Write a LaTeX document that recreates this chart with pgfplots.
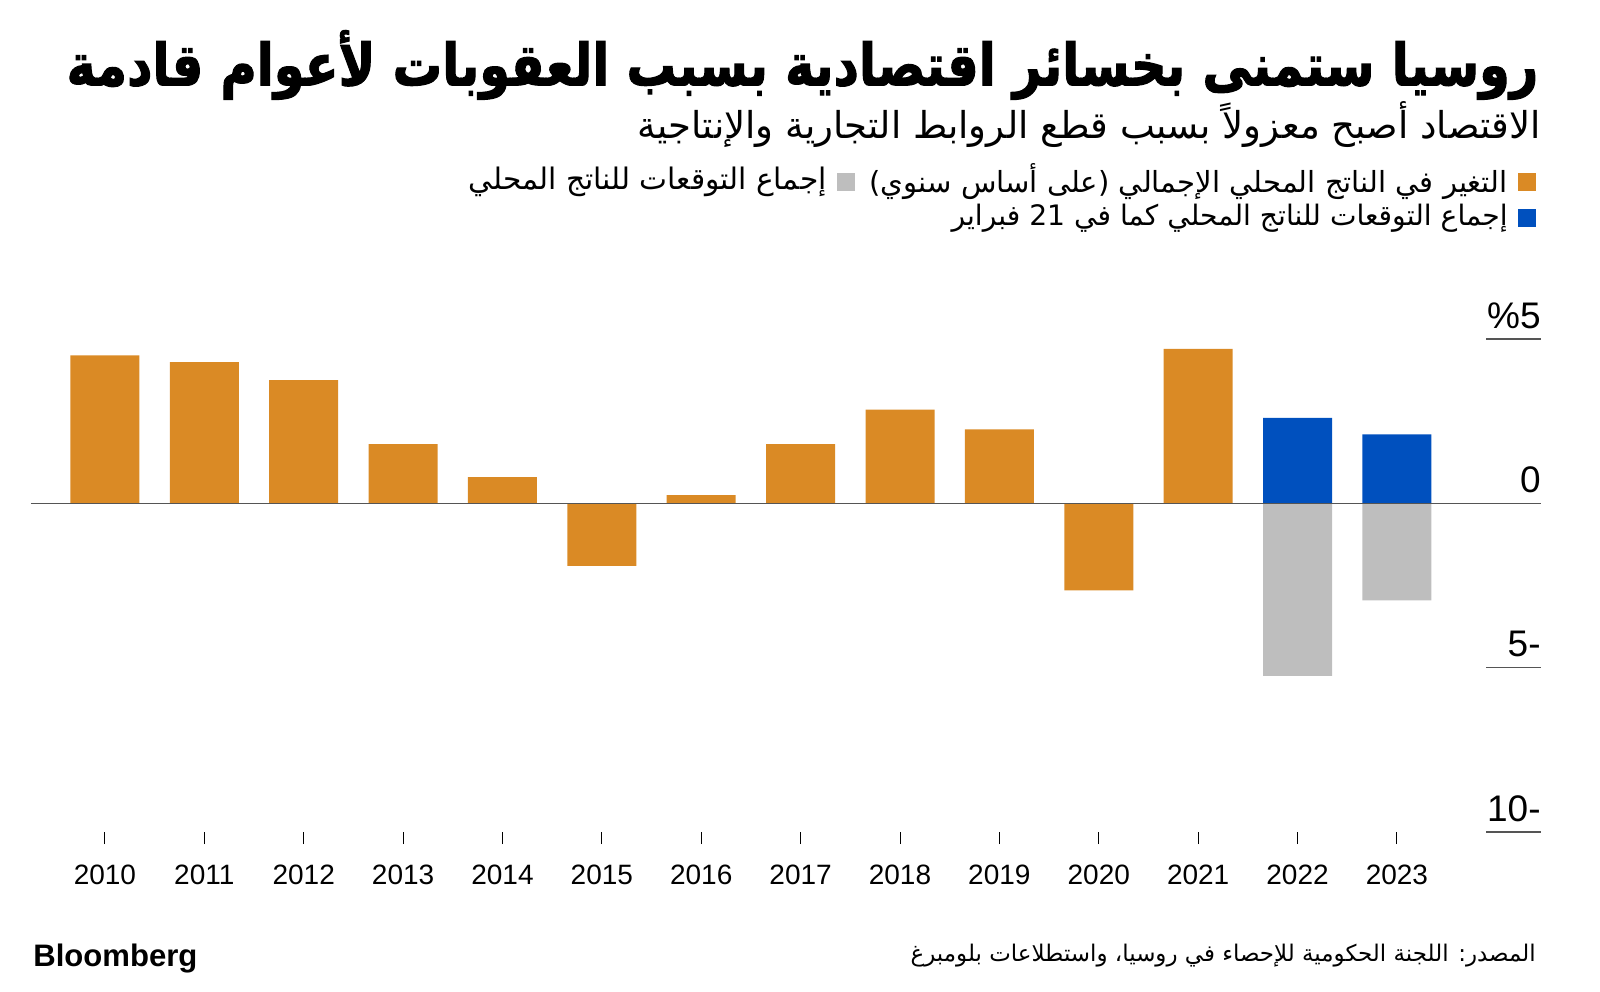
\documentclass[border=0pt]{standalone}
\usepackage{pgfplots}
\pgfplotsset{compat=1.18}
\usepackage{fontspec}
\usepackage{graphicx}
\setmainfont{Liberation Sans}
\newfontfamily\arabicfont[Script=Arabic]{DejaVu Sans}
\newfontfamily\arabicbold[Script=Arabic,FakeBold=2]{DejaVu Sans Bold}
\TeXXeTstate=1
\definecolor{barorange}{HTML}{DA8A25}
\definecolor{barblue}{HTML}{0050BE}
\definecolor{bargrey}{HTML}{BEBEBE}
\definecolor{linegrey}{HTML}{555555}

\pgfplotstableread{
x y
0 4.5
1 4.3
2 3.75
3 1.8
4 0.8
5 -1.9
6 0.25
7 1.8
8 2.85
9 2.25
10 -2.65
11 4.7
}\actual
\pgfplotstableread{
x y
12 2.6
13 2.1
}\prewar
\pgfplotstableread{
x y
12 -5.25
13 -2.95
}\postwar

\begin{document}
\begin{tikzpicture}
\useasboundingbox (0pt,0pt) rectangle (800pt,495.5pt);
% title
\node[anchor=east,inner sep=0pt] at (769.5pt,463pt) {\scalebox{1}[1.18]{\resizebox{736pt}{!}{\arabicbold\fontsize{30}{36}\selectfont\beginR روسيا ستمنى بخسائر اقتصادية بسبب العقوبات لأعوام قادمة\endR}}};
\node[anchor=east,inner sep=0pt] at (770.5pt,433pt) {\resizebox{451.5pt}{!}{\arabicfont\fontsize{20}{24}\selectfont\beginR الاقتصاد أصبح معزولاً بسبب قطع الروابط التجارية والإنتاجية\endR}};
% legend
\fill[barorange] (759pt,400pt) rectangle (768pt,409pt);
\node[anchor=east,inner sep=0pt] at (754pt,404.5pt) {\resizebox{319pt}{!}{\arabicfont\fontsize{14}{16}\selectfont\beginR التغير في الناتج المحلي الإجمالي (على أساس سنوي)\endR}};
\fill[bargrey] (418.25pt,400pt) rectangle (427.25pt,409pt);
\node[anchor=east,inner sep=0pt] at (413.5pt,404.5pt) {\resizebox{179pt}{!}{\arabicfont\fontsize{14}{16}\selectfont\beginR إجماع التوقعات للناتج المحلي\endR}};
\fill[barblue] (759pt,382pt) rectangle (768pt,391pt);
\node[anchor=east,inner sep=0pt] at (754pt,386.5pt) {\resizebox{278pt}{!}{\arabicfont\fontsize{14}{16}\selectfont\beginR إجماع التوقعات للناتج المحلي كما في 21 فبراير\endR}};
% footer
\node[anchor=east,inner sep=0pt] at (768pt,17.5pt) {\resizebox{312.5pt}{!}{\arabicfont\fontsize{12}{14}\selectfont\beginR المصدر: اللجنة الحكومية للإحصاء في روسيا، واستطلاعات بلومبرغ\endR}};
\node[anchor=west,inner sep=0pt] at (16.5pt,16pt) {\resizebox{82pt}{!}{\fontsize{14}{16}\selectfont\bfseries Bloomberg}};

\begin{axis}[
  at={(15.5pt,79.5pt)}, anchor=south west,
  scale only axis, width=755pt, height=246.5pt,
  xmin=-0.744, xmax=14.45, ymin=-10, ymax=5,
  axis line style={draw=none},
  clip=false,
  major tick length=6pt,
  xtick={0,...,13},
  xticklabels={2010,2011,2012,2013,2014,2015,2016,2017,2018,2019,2020,2021,2022,2023},
  xtick pos=bottom, xtick align=outside,
  x tick style={draw=black, line width=0.5pt},
  xticklabel style={anchor=north, inner sep=0pt, yshift=-10.5pt, font=\fontsize{14}{16}\selectfont},
  ytick={-10,-5,0,5},
  yticklabels={10-,5-,0,\%5},
  ytick pos=right, yticklabel pos=right,
  y tick style={draw=none},
  yticklabel style={anchor=south east, inner sep=0pt, yshift=5pt, font=\fontsize{18.5}{20}\selectfont},
  ybar, bar width=34.5pt, bar shift=0pt,
]
\addplot[fill=barorange, draw=none] table[x=x,y=y] {\actual};
\addplot[fill=barblue, draw=none] table[x=x,y=y] {\prewar};
\addplot[fill=bargrey, draw=none] table[x=x,y=y] {\postwar};
\draw[linegrey, line width=0.6pt] (axis cs:-0.744,0) -- (axis cs:14.45,0);
\draw[linegrey, line width=0.6pt] (axis cs:13.897,5) -- (axis cs:14.45,5);
\draw[linegrey, line width=0.6pt] (axis cs:13.897,-5) -- (axis cs:14.45,-5);
\draw[linegrey, line width=0.6pt] (axis cs:13.897,-10) -- (axis cs:14.45,-10);
\end{axis}
\end{tikzpicture}
\end{document}
